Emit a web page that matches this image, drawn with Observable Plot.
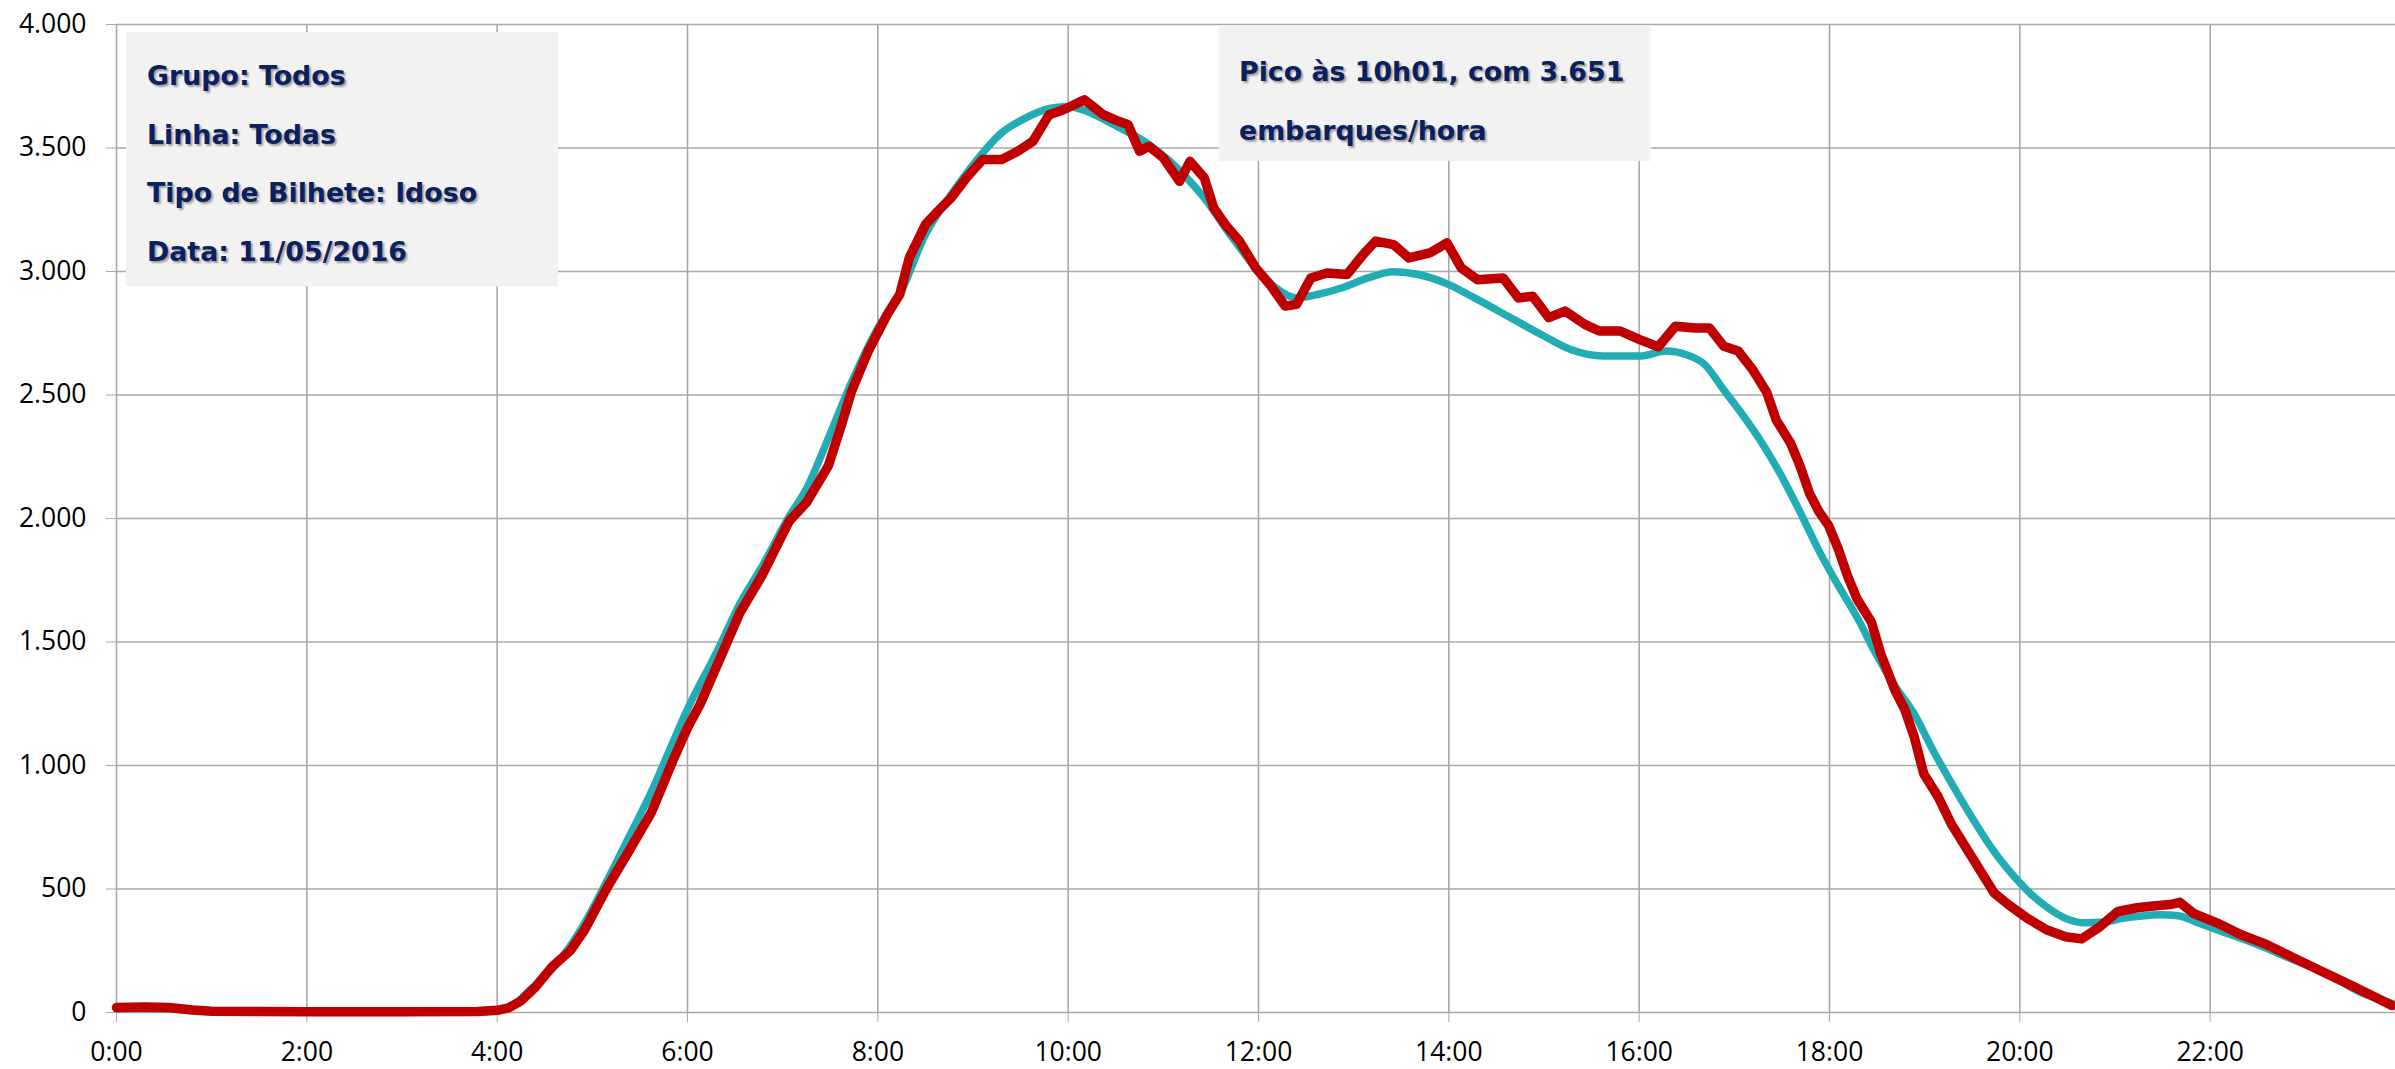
<!DOCTYPE html>
<html>
<head>
<meta charset="utf-8">
<script src="https://cdn.jsdelivr.net/npm/d3@7"></script>
<script src="https://cdn.jsdelivr.net/npm/@observablehq/plot@0.6"></script>
<style>
html, body { margin: 0; padding: 0; background: #fff; overflow: hidden; }
#wrap { position: relative; width: 2395px; height: 1069px; }
.box { position: absolute; background: #f2f2f2; box-sizing: border-box; white-space: nowrap;
  font-family: "DejaVu Sans", sans-serif; font-weight: bold; font-size: 26.8px; color: #0a2060;
  text-shadow: 2px 2px 2px rgba(0,0,0,0.35); }
.box div { height: 58.5px; line-height: 58.5px; }
</style>
</head>
<body>
<div id="wrap"></div>
<script>
// Tick positions (hours / boardings) and their labels
const xTicks = [0, 2, 4, 6, 8, 10, 12, 14, 16, 18, 20, 22];
const xTickLabels = ["0:00", "2:00", "4:00", "6:00", "8:00", "10:00", "12:00", "14:00", "16:00", "18:00", "20:00", "22:00"];
const yTicks = [0, 500, 1000, 1500, 2000, 2500, 3000, 3500, 4000];
const yTickLabels = ["0", "500", "1.000", "1.500", "2.000", "2.500", "3.000", "3.500", "4.000"];

// Smooth (teal) series: hour of day, boardings/hour
const tealHours = [0, 0.25, 0.5, 0.75, 1.0, 1.5, 2, 3, 3.75, 4.0, 4.17, 4.35, 4.68, 4.92, 5.15, 5.38, 5.62, 5.85, 6.0,
  6.32, 6.55, 6.78, 7.07, 7.25, 7.48, 7.72, 8.0, 8.23, 8.5, 8.77, 9.03, 9.3, 9.52, 9.83, 10.0, 10.2, 10.48, 10.8,
  11.07, 11.28, 11.43, 11.7, 11.97, 12.18, 12.4, 12.62, 12.88, 13.15, 13.42, 13.68, 14.0, 14.27, 14.65, 14.97,
  15.28, 15.62, 16.0, 16.29, 16.49, 16.69, 16.89, 17.09, 17.29, 17.49, 17.69, 17.89, 18.09, 18.29, 18.49, 18.69,
  18.89, 19.09, 19.28, 19.48, 19.68, 19.88, 20.08, 20.28, 20.48, 20.68, 20.88, 21.08, 21.28, 21.48, 21.68, 21.87,
  22.07, 22.47, 22.87, 23.27, 23.57, 23.91];
const tealValues = [15, 16, 15, 10, 5, 3, 3, 3, 4, 10, 30, 93, 223, 363, 530, 707, 893, 1097, 1228,
  1469, 1655, 1804, 2009, 2120, 2325, 2548, 2771, 2907, 3150, 3311, 3446, 3561, 3615, 3662, 3668, 3648, 3594, 3527,
  3446, 3365, 3298, 3150, 3015, 2934, 2893, 2907, 2934, 2974, 2999, 2988, 2947, 2893, 2813, 2745,
  2684, 2658, 2658, 2678, 2664, 2623, 2520, 2418, 2306, 2176, 2027, 1869, 1730, 1600, 1451, 1321,
  1209, 1060, 930, 800, 679, 577, 493, 428, 381, 363, 366, 381, 391, 396, 391, 363,
  335, 279, 214, 149, 84, 37];

// Day series (red): hour of day, boardings/hour
const redHours = [0, 0.3, 0.55, 0.8, 1.0, 1.5, 2, 3, 3.8, 4.0, 4.12, 4.25, 4.4, 4.58, 4.77, 4.92, 5.15, 5.38, 5.62, 5.85,
  6.0, 6.13, 6.32, 6.55, 6.78, 7.07, 7.25, 7.48, 7.62, 7.72, 7.9, 8.1, 8.23, 8.33, 8.5, 8.63, 8.77, 8.93, 9.1, 9.3,
  9.47, 9.63, 9.8, 9.95, 10.17, 10.37, 10.53, 10.63, 10.75, 10.85, 11.0, 11.17, 11.28, 11.43, 11.53, 11.65, 11.8,
  11.97, 12.12, 12.28, 12.4, 12.55, 12.72, 12.93, 13.1, 13.23, 13.42, 13.58, 13.8, 13.98, 14.13, 14.3, 14.57, 14.73,
  14.88, 15.05, 15.22, 15.43, 15.58, 15.8, 16.0, 16.2, 16.38, 16.59, 16.74, 16.89, 17.04, 17.19, 17.34, 17.44,
  17.59, 17.69, 17.79, 17.89, 17.99, 18.09, 18.19, 18.29, 18.44, 18.54, 18.69, 18.79, 18.89, 18.99, 19.14, 19.28,
  19.43, 19.58, 19.73, 19.88, 20.08, 20.28, 20.48, 20.65, 20.83, 21.03, 21.23, 21.43, 21.58, 21.68, 21.83, 22.07,
  22.32, 22.57, 22.87, 23.17, 23.47, 23.72, 23.91];
const redValues = [20, 22, 20, 10, 5, 4, 3, 3, 4, 9, 19, 47, 102, 186, 251, 335, 502, 651, 809, 1023,
  1153, 1246, 1414, 1618, 1767, 1990, 2065, 2213, 2381, 2511, 2678, 2827, 2907, 3055, 3190, 3244, 3298, 3379, 3453, 3453,
  3487, 3527, 3635, 3655, 3695, 3635, 3608, 3594, 3487, 3507, 3460, 3365, 3446, 3379, 3257, 3190, 3123,
  3015, 2947, 2860, 2867, 2974, 2994, 2988, 3069, 3123, 3109, 3055, 3075, 3116, 3015, 2967, 2974, 2893,
  2900, 2813, 2840, 2786, 2759, 2759, 2725, 2695, 2778, 2771, 2771, 2697, 2678, 2604, 2511, 2399,
  2306, 2213, 2102, 2027, 1972, 1879, 1767, 1674, 1581, 1451, 1302, 1228, 1116, 967, 874, 763,
  670, 577, 484, 437, 381, 335, 307, 298, 344, 409, 424, 432, 437, 446, 400, 363,
  316, 279, 223, 167, 112, 65, 28];

const infoLines = ["Grupo: Todos", "Linha: Todas", "Tipo de Bilhete: Idoso", "Data: 11/05/2016"];
const peakLines = ["Pico às 10h01, com 3.651", "embarques/hora"];

const teal = tealHours.map((h, i) => ({h, v: tealValues[i]}));
const red = redHours.map((h, i) => ({h, v: redValues[i]}));

const grid = "#a9a9a9";
const chart = Plot.plot({
  width: 2395,
  height: 1069,
  marginTop: 24,
  marginBottom: 57,
  marginLeft: 116,
  marginRight: 0,
  style: {fontFamily: "'Open Sans', sans-serif", fontSize: "26px", color: "#000", background: "#fff"},
  x: {domain: [0, 24], range: [116, 2400], axis: null},
  y: {domain: [0, 4000], axis: null},
  marks: [
    Plot.ruleY(yTicks, {stroke: grid, strokeWidth: 1.6}),
    Plot.ruleX(xTicks, {stroke: grid, strokeWidth: 1.6}),
    Plot.axisY({ticks: yTicks, tickFormat: d => yTickLabels[yTicks.indexOf(d)], tickSize: 10, tickPadding: 20,
      stroke: grid, fill: "#000", label: null, fontSize: 26.5}),
    Plot.axisX({ticks: xTicks, tickFormat: d => xTickLabels[xTicks.indexOf(d)], tickSize: 10, tickPadding: 20,
      stroke: grid, fill: "#000", label: null, fontSize: 26.5}),
    Plot.line(teal, {x: "h", y: "v", stroke: "#22adb5", strokeWidth: 7.5, curve: "monotone-x", strokeLinejoin: "round", strokeLinecap: "round"}),
    Plot.line(red, {x: "h", y: "v", stroke: "#c00000", strokeWidth: 9.5, curve: "linear", strokeLinejoin: "round", strokeLinecap: "round"})
  ]
});

const wrap = document.getElementById("wrap");
wrap.appendChild(chart);

function addBox(lines, left, top, width, height, padLeft, padTop) {
  const b = document.createElement("div");
  b.className = "box";
  Object.assign(b.style, {left: left + "px", top: top + "px", width: width + "px", height: height + "px",
    paddingLeft: padLeft + "px", paddingTop: padTop + "px"});
  for (const t of lines) {
    const d = document.createElement("div");
    d.textContent = t;
    b.appendChild(d);
  }
  wrap.appendChild(b);
}
addBox(infoLines, 126, 32, 432, 254, 21, 15);
addBox(peakLines, 1219, 25, 432, 136, 20, 18);
</script>
</body>
</html>
